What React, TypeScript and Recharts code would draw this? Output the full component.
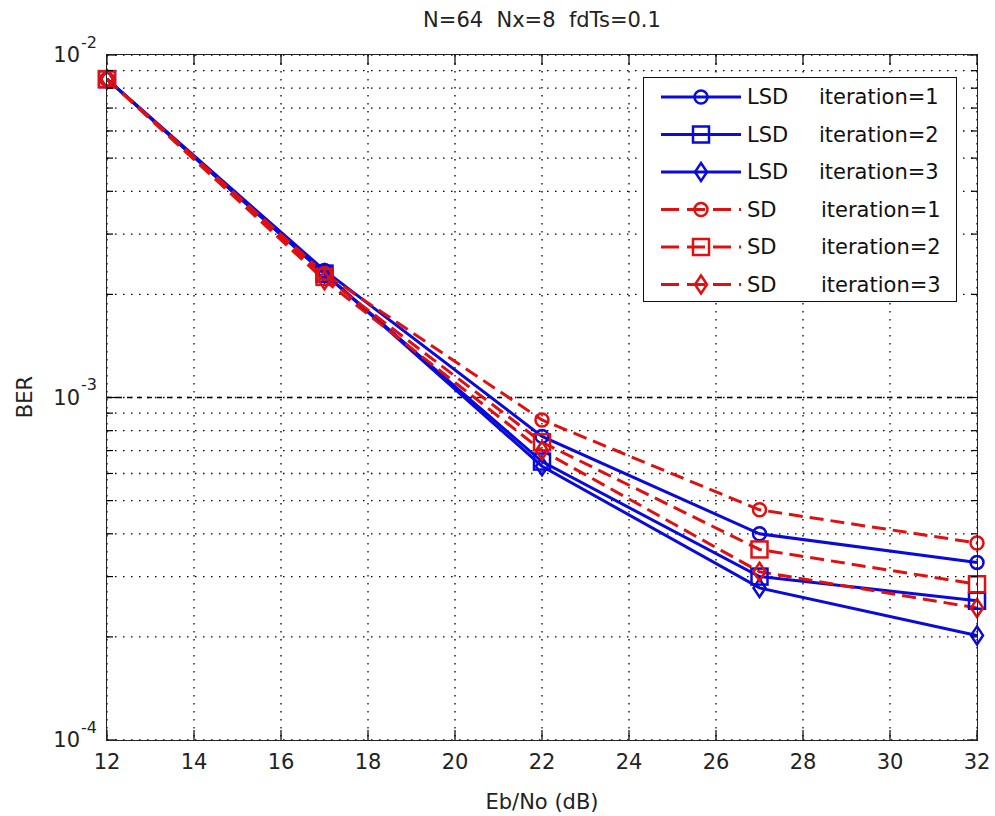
import { CartesianGrid, Label, Legend, Line, LineChart, ReferenceLine, XAxis, YAxis } from "recharts";

// Eb/No sample points (dB)
const ebNo = [12, 17, 22, 27, 32];

// BER
const lsdIter1 = [8.5e-3, 2.35e-3, 7.7e-4, 4.0e-4, 3.3e-4];
const lsdIter2 = [8.5e-3, 2.3e-3, 6.5e-4, 3.0e-4, 2.55e-4];
const lsdIter3 = [8.5e-3, 2.3e-3, 6.3e-4, 2.78e-4, 2.02e-4];
const sdIter1 = [8.5e-3, 2.3e-3, 8.6e-4, 4.7e-4, 3.76e-4];
const sdIter2 = [8.5e-3, 2.25e-3, 7.4e-4, 3.6e-4, 2.85e-4];
const sdIter3 = [8.5e-3, 2.2e-3, 7.0e-4, 3.1e-4, 2.43e-4];

const xTicks = [12, 14, 16, 18, 20, 22, 24, 26, 28, 30, 32];
const yTicks = [
  1e-4, 2e-4, 3e-4, 4e-4, 5e-4, 6e-4, 7e-4, 8e-4, 9e-4,
  1e-3, 2e-3, 3e-3, 4e-3, 5e-3, 6e-3, 7e-3, 8e-3, 9e-3, 1e-2,
];

const BLUE = "#0a0adc";
const RED = "#e01010";
const FONT = "DejaVu Sans";
const PL = 107;
const PR = 977;
const PT = 55;
const PB = 740;

type Shape = "circle" | "square" | "diamond";

const series: { key: string; name: string; label: string; color: string; shape: Shape; dashed: boolean }[] = [
  { key: "lsd1", name: "LSD", label: "iteration=1", color: BLUE, shape: "circle", dashed: false },
  { key: "lsd2", name: "LSD", label: "iteration=2", color: BLUE, shape: "square", dashed: false },
  { key: "lsd3", name: "LSD", label: "iteration=3", color: BLUE, shape: "diamond", dashed: false },
  { key: "sd1", name: "SD", label: "iteration=1", color: RED, shape: "circle", dashed: true },
  { key: "sd2", name: "SD", label: "iteration=2", color: RED, shape: "square", dashed: true },
  { key: "sd3", name: "SD", label: "iteration=3", color: RED, shape: "diamond", dashed: true },
];

const rows = ebNo.map((x, i) => ({
  ebno: x,
  lsd1: lsdIter1[i],
  lsd2: lsdIter2[i],
  lsd3: lsdIter3[i],
  sd1: sdIter1[i],
  sd2: sdIter2[i],
  sd3: sdIter3[i],
}));

// y axis is linear in log10(BER)
const logTicks = yTicks.map((v) => Math.log10(v));

function marker(shape: Shape, cx: number, cy: number, color: string, key?: string) {
  const common = { fill: "none", stroke: color, strokeWidth: 2.5 };
  if (shape === "circle") return <circle key={key} cx={cx} cy={cy} r={6.5} {...common} />;
  if (shape === "square") return <rect key={key} x={cx - 8} y={cy - 8} width={16} height={16} {...common} />;
  return (
    <polygon
      key={key}
      points={`${cx},${cy - 9} ${cx + 6},${cy} ${cx},${cy + 9} ${cx - 6},${cy}`}
      {...common}
    />
  );
}

function XTick(props: any) {
  const { x, payload } = props;
  return (
    <g>
      <line x1={x} x2={x} y1={PB} y2={PB - 10} stroke="#000" strokeWidth={1.2} />
      <line x1={x} x2={x} y1={PT} y2={PT + 10} stroke="#000" strokeWidth={1.2} />
      <text x={x} y={762} textAnchor="middle" dominantBaseline="central" fontFamily={FONT} fontSize={21} fill="#222">
        {payload.value}
      </text>
    </g>
  );
}

function YTick(props: any) {
  const { y, payload } = props;
  const lg = payload.value;
  const exp = Math.round(lg);
  const major = Math.abs(lg - exp) < 1e-6;
  const len = major ? 10 : 6;
  return (
    <g>
      <line x1={PL} x2={PL + len} y1={y} y2={y} stroke="#000" strokeWidth={1.2} />
      <line x1={PR - len} x2={PR} y1={y} y2={y} stroke="#000" strokeWidth={1.2} />
      {major && (
        <text x={80} y={y} textAnchor="end" dominantBaseline="central" fontFamily={FONT} fontSize={21} fill="#222">
          10
        </text>
      )}
      {major && (
        <text x={81} y={y - 13} textAnchor="start" dominantBaseline="central" fontFamily={FONT} fontSize={16} fill="#222">
          {`-${-exp}`}
        </text>
      )}
    </g>
  );
}

function LegendBox() {
  return (
    <svg width={314} height={225} style={{ display: "block", background: "#fff", border: "1.5px solid #111", boxSizing: "border-box" }}>
      {series.map((s, i) => {
        const y = 19 + i * 37.5;
        return (
          <g key={s.key}>
            <line
              x1={17}
              x2={97}
              y1={y}
              y2={y}
              stroke={s.color}
              strokeWidth={3}
              strokeDasharray={s.dashed ? "18 8" : undefined}
            />
            {marker(s.shape, 57, y, s.color)}
            <text x={103} y={y} dominantBaseline="central" fontFamily={FONT} fontSize={21} fill="#111">
              {s.name}
            </text>
            <text x={s.dashed ? 177 : 175} y={y} dominantBaseline="central" fontFamily={FONT} fontSize={21} fill="#111">
              {s.label}
            </text>
          </g>
        );
      })}
    </svg>
  );
}

export default function App() {
  return (
    <div style={{ position: "absolute", left: 0, top: 0, width: 995, height: 816, background: "#fff" }}>
      <div
        style={{
          position: "absolute",
          left: PL,
          width: PR - PL,
          top: 8,
          textAlign: "center",
          fontFamily: FONT,
          fontSize: 21,
          color: "#222",
          whiteSpace: "pre",
        }}
      >
        {"N=64  Nx=8  fdTs=0.1"}
      </div>
      <LineChart width={995} height={816} data={rows} margin={{ top: 55, right: 18, bottom: 46, left: 47 }}>
        <CartesianGrid stroke="#000" strokeWidth={1.3} strokeDasharray="1.5 6.5" />
        <ReferenceLine y={-3} stroke="#000" strokeWidth={1.3} strokeDasharray="5 5" />
        <XAxis
          dataKey="ebno"
          type="number"
          domain={[12, 32]}
          ticks={xTicks}
          interval={0}
          height={30}
          tickLine={false}
          axisLine={false}
          tick={XTick}
        >
          <Label
            content={() => (
              <text x={542} y={802} textAnchor="middle" dominantBaseline="central" fontFamily={FONT} fontSize={21} fill="#222">
                Eb/No (dB)
              </text>
            )}
          />
        </XAxis>
        <YAxis
          type="number"
          domain={[-4, -2]}
          allowDataOverflow
          ticks={logTicks}
          interval={0}
          width={60}
          tickLine={false}
          axisLine={false}
          tick={YTick}
        >
          <Label
            content={() => (
              <text
                x={25}
                y={397}
                textAnchor="middle"
                dominantBaseline="central"
                fontFamily={FONT}
                fontSize={21}
                fill="#222"
                transform="rotate(-90 25 397)"
              >
                BER
              </text>
            )}
          />
        </YAxis>
        <Legend
          layout="vertical"
          align="center"
          verticalAlign="middle"
          content={() => <LegendBox />}
          wrapperStyle={{ position: "absolute", left: 643, top: 77, width: 314, height: 225, bottom: "auto", right: "auto" }}
        />
        {series.map((s) => (
          <Line
            key={s.key}
            dataKey={(r: any) => Math.log10(r[s.key])}
            name={s.key}
            type="linear"
            stroke={s.color}
            strokeWidth={3}
            strokeDasharray={s.dashed ? "14 7" : undefined}
            isAnimationActive={false}
            dot={(p: any) => marker(s.shape, p.cx, p.cy, s.color, `${s.key}-${p.index}`)}
            activeDot={false}
          />
        ))}
      </LineChart>
      <div
        style={{
          position: "absolute",
          left: PL - 1,
          top: PT - 1,
          width: PR - PL,
          height: PB - PT,
          border: "1.5px solid #222",
          pointerEvents: "none",
        }}
      />
    </div>
  );
}
